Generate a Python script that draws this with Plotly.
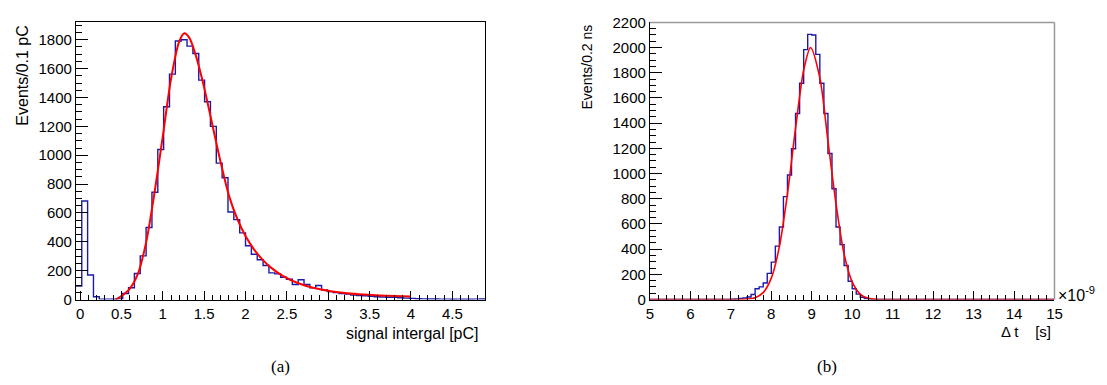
import numpy as np
import plotly.graph_objects as go

W, H = 1107, 385

# ---------------- Panel (a): signal integral ----------------
a_bin_start = -0.05
a_bin_width = 0.0707
a_counts = [93, 683, 170, 20, 3, 3, 3, 5, 42, 82,
            181, 303, 499, 744, 1040, 1336, 1562, 1791, 1800, 1756,
            1705, 1520, 1370, 1200, 945, 844, 607, 554, 462, 373,
            314, 276, 236, 185, 178, 155, 141, 104, 137, 104,
            82, 97, 66, 55, 48, 42, 38, 32, 28, 26,
            22, 20, 18, 16, 15, 13, 10, 8, 6, 5,
            4, 4, 3, 3, 2, 3, 2, 2, 3, 4]
a_fit_x = [0.43, 0.5, 0.6, 0.7, 0.8, 0.9, 1.0, 1.1, 1.2, 1.26, 1.32, 1.4, 1.5, 1.6,
           1.7, 1.8, 1.9, 2.0, 2.1, 2.2, 2.3, 2.45, 2.63, 2.83, 3.03, 3.23, 3.43,
           3.62, 3.8, 4.0]
a_fit_y = [0, 25, 75, 180, 400, 740, 1130, 1530, 1790, 1845, 1815, 1690, 1470, 1210,
           950, 720, 560, 440, 350, 280, 225, 165, 115, 80, 58, 44, 35,
           29, 25, 21]
a_xrange = [-0.05, 4.9]
a_yrange = [0, 1925]

# ---------------- Panel (b): time difference ----------------
b_bin_start = 5.0
b_bin_width = 0.1
b_counts = ([0] * 20 +
            [3, 5, 8, 13, 20, 40, 86, 101, 132, 208,
             297, 424, 576, 817, 989, 1197, 1477, 1717, 1984, 2105,
             2100, 1946, 1717, 1477, 1159, 880, 576, 436, 271, 145,
             86, 43, 18, 8, 3] +
            [0] * 45)
b_fit_x = [5.0, 6.0, 7.0, 7.4, 7.6, 7.8, 8.0, 8.2, 8.4, 8.6, 8.8, 8.97, 9.2, 9.4,
           9.6, 9.8, 10.0, 10.2, 10.4, 10.6, 10.8, 12.0, 15.0]
b_fit_y = [0, 0, 0, 4, 15, 55, 170, 420, 840, 1360, 1820, 2000, 1760, 1260,
           760, 360, 140, 42, 10, 2, 0, 0, 0]
b_xrange = [5, 15]
b_yrange = [0, 2200]


def step_xy(start, width, counts):
    edges = start + width * np.arange(len(counts) + 1)
    ys = list(counts) + [counts[-1]]
    return edges, ys


HIST_COL = "#1a1aaa"
FIT_COL = "#ff0000"
FONT = "Liberation Sans, Arial, sans-serif"
SERIF = "Liberation Serif, Times New Roman, serif"

fig = go.Figure()

ax, ay = step_xy(a_bin_start, a_bin_width, a_counts)
fig.add_trace(go.Scatter(x=ax, y=ay, mode="lines", line=dict(color=HIST_COL, width=1.4, shape="hv"),
                         xaxis="x", yaxis="y", showlegend=False))
fig.add_trace(go.Scatter(x=a_fit_x, y=a_fit_y, mode="lines",
                         line=dict(color=FIT_COL, width=2, shape="spline", smoothing=0.8),
                         xaxis="x", yaxis="y", showlegend=False))

bx, by = step_xy(b_bin_start, b_bin_width, b_counts)
fig.add_trace(go.Scatter(x=bx, y=by, mode="lines", line=dict(color=HIST_COL, width=1.4, shape="hv"),
                         xaxis="x2", yaxis="y2", showlegend=False))
fig.add_trace(go.Scatter(x=b_fit_x, y=b_fit_y, mode="lines",
                         line=dict(color=FIT_COL, width=1.6, shape="spline", smoothing=0.8),
                         xaxis="x2", yaxis="y2", showlegend=False))


def px(x):
    return x / W


def py(y):
    return 1 - y / H


a_dom_x = [px(72.7), px(486.7)]
b_dom_x = [px(653), px(1062)]
a_dom_y = [py(304), py(13.3)]
b_dom_y = [py(304), py(14)]


def xaxis(dom, rng, dtick, tick0, mdtick, anchor, mirror, fs):
    return dict(domain=dom, range=rng, anchor=anchor, dtick=dtick, tick0=tick0,
                ticks="inside", ticklen=9, tickwidth=1, tickcolor="black",
                showline=True, linecolor="black", linewidth=1, mirror=mirror,
                showgrid=False, zeroline=False,
                tickfont=dict(family=FONT, size=fs, color="black"),
                minor=dict(dtick=mdtick, ticks="inside", ticklen=5, tickcolor="black", showgrid=False))


def yaxis(dom, rng, anchor, mirror, fs):
    return dict(domain=dom, range=rng, anchor=anchor, dtick=200, tick0=0,
                ticks="inside", ticklen=12, tickwidth=1, tickcolor="black",
                showline=True, linecolor="black", linewidth=1, mirror=mirror,
                showgrid=False, zeroline=False,
                tickfont=dict(family=FONT, size=fs, color="black"),
                minor=dict(dtick=50, ticks="inside", ticklen=6, tickcolor="black", showgrid=False))


annotations = [
    dict(text="Events/0.1 pC", x=px(19), y=py(14), xref="paper", yref="paper",
         xanchor="center", yanchor="top", textangle=-90, showarrow=False,
         font=dict(family=FONT, size=16, color="black")),
    dict(text="signal intergal [pC]", x=px(482), y=py(339), xref="paper", yref="paper",
         xanchor="right", yanchor="middle", showarrow=False,
         font=dict(family=FONT, size=16, color="black")),
    dict(text="Events/0.2 ns", x=px(589), y=py(14), xref="paper", yref="paper",
         xanchor="center", yanchor="top", textangle=-90, showarrow=False,
         font=dict(family=FONT, size=14, color="black")),
    dict(text="Δ t    [s]", x=px(1060), y=py(337), xref="paper", yref="paper",
         xanchor="right", yanchor="middle", showarrow=False,
         font=dict(family=FONT, size=15, color="black")),
    dict(text="×10<sup>-9</sup>", x=px(1064), y=py(298), xref="paper", yref="paper",
         xanchor="left", yanchor="middle", showarrow=False,
         font=dict(family=FONT, size=16, color="black")),
    dict(text="(a)", x=px(280), y=py(374), xref="paper", yref="paper",
         xanchor="center", yanchor="middle", showarrow=False,
         font=dict(family=SERIF, size=17, color="black")),
    dict(text="(b)", x=px(832), y=py(374), xref="paper", yref="paper",
         xanchor="center", yanchor="middle", showarrow=False,
         font=dict(family=SERIF, size=17, color="black")),
]

shapes = [
    # gray frame (top and right) of panel (b)
    dict(type="line", xref="paper", yref="paper", x0=b_dom_x[0], x1=b_dom_x[1],
         y0=b_dom_y[1], y1=b_dom_y[1], line=dict(color="#999999", width=1.5)),
    dict(type="line", xref="paper", yref="paper", x0=b_dom_x[1], x1=b_dom_x[1],
         y0=b_dom_y[0], y1=b_dom_y[1], line=dict(color="#999999", width=1.5)),
]

fig.update_layout(
    width=W, height=H, margin=dict(l=0, r=0, t=0, b=0),
    paper_bgcolor="white", plot_bgcolor="white",
    xaxis=xaxis(a_dom_x, a_xrange, 0.5, 0, 0.1, "y", True, 15),
    yaxis=yaxis(a_dom_y, a_yrange, "x", True, 15),
    xaxis2=xaxis(b_dom_x, b_xrange, 1, 5, 0.2, "y2", False, 15),
    yaxis2=yaxis(b_dom_y, b_yrange, "x2", False, 15),
    annotations=annotations, shapes=shapes,
)

fig.write_html("out.html")
